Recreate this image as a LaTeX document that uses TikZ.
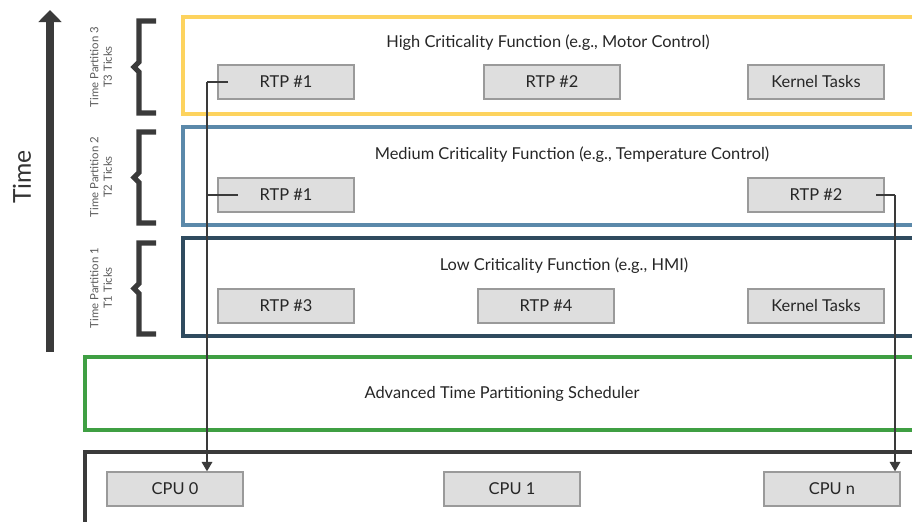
\documentclass[tikz,border=0pt]{standalone}
\usepackage{fontspec}
\setmainfont{Lato}
\usetikzlibrary{arrows.meta}

\definecolor{highcrit}{HTML}{FDD35E}
\definecolor{medcrit}{HTML}{5B89AA}
\definecolor{lowcrit}{HTML}{2F4B5F}
\definecolor{schedgreen}{HTML}{3F9F43}
\definecolor{darkline}{HTML}{3A3A3A}
\definecolor{taskfill}{HTML}{DEDEDE}
\definecolor{taskedge}{HTML}{9A9A9A}

\tikzset{
  task/.style={draw=taskedge, fill=taskfill, line width=1.1pt,
    minimum width=102pt, minimum height=25.5pt, inner sep=0pt,
    font=\fontsize{12.3}{14}\selectfont, text=black!85},
  title/.style={font=\fontsize{12.3}{14}\selectfont, text=black!85},
  frame/.style={line width=2.8pt},
  tbracket/.style={line width=3.8pt, draw=darkline},
  plabel/.style={rotate=90, align=center, text=black!65,
    font=\fontsize{8.5}{10}\selectfont},
  link/.style={draw=darkline, line width=0.8pt}
}

\begin{document}
\begin{tikzpicture}[x=0.75pt,y=-0.75pt]
      \useasboundingbox (0,0) rectangle (912,521);
      \clip (0,0) rectangle (912,521);

      % time axis
      \coordinate (tlow) at (50,352);
      \coordinate (thigh) at (50,10);
      \draw[line width=6pt, draw=darkline, -{Triangle[length=9pt,width=17pt]}] (tlow) -- (thigh);
      \node[rotate=90, font=\fontsize{18.5}{22}\selectfont, text=black!80] (timelbl) at (22,177) {Time};

      % partition frames
      \draw[frame, highcrit] (930,17) -- (183,17) -- (183,114) -- (930,114);
      \draw[frame, medcrit] (930,127) -- (183,127) -- (183,225) -- (930,225);
      \draw[frame, lowcrit] (930,238) -- (183,238) -- (183,336) -- (930,336);
      \draw[frame, schedgreen] (930,357) -- (85,357) -- (85,430) -- (930,430);
      \draw[frame, darkline] (930,452) -- (85,452) -- (85,540);

      % brackets
      \foreach \top/\bot in {21/113, 132/223, 243/334} {
        \draw[tbracket] (156,\top) -- (139,\top) -- (139,{(\top+\bot)/2-5})
          -- (134,{(\top+\bot)/2}) -- (139,{(\top+\bot)/2+5}) -- (139,\bot) -- (156,\bot);
      }
      \node[plabel] (part3) at (101,67) {Time Partition 3\\T3 Ticks};
      \node[plabel] (part2) at (101,177) {Time Partition 2\\T2 Ticks};
      \node[plabel] (part1) at (101,288) {Time Partition 1\\T1 Ticks};

      % high criticality
      \node[title] (hightitle) at (548,43) {High Criticality Function (e.g., Motor Control)};
      \node[task] (hrtpa) at (286,82) {RTP \#1};
      \node[task] (hrtpb) at (552,82) {RTP \#2};
      \node[task] (hkern) at (816,82) {Kernel Tasks};

      % medium criticality
      \node[title] (medtitle) at (572,155) {Medium Criticality Function (e.g., Temperature Control)};
      \node[task] (mrtpa) at (286,195) {RTP \#1};
      \node[task] (mrtpb) at (816,195) {RTP \#2};

      % low criticality
      \node[title] (lowtitle) at (564,266) {Low Criticality Function (e.g., HMI)};
      \node[task] (lrtpc) at (286,306) {RTP \#3};
      \node[task] (lrtpd) at (546,306) {RTP \#4};
      \node[task] (lkern) at (816,306) {Kernel Tasks};

      % scheduler
      \node[title] (sched) at (502,394) {Advanced Time Partitioning Scheduler};

      % cpus
      \node[task] (cpua) at (175,489) {CPU 0};
      \node[task] (cpub) at (512,489) {CPU 1};
      \node[task] (cpun) at (832,489) {CPU n};

      % mapping to cpus
      \coordinate (hsrc) at (228,82);
      \coordinate (msrc) at (238,195);
      \coordinate (nsrc) at (876,195);
      \coordinate (lbend) at (207,82);
      \coordinate (mbend) at (207,195);
      \coordinate (rbend) at (895,195);
      \draw[link] (hsrc) -- (lbend);
      \draw[link] (msrc) -- (mbend);
      \draw[link, -{Triangle[length=7pt,width=8pt]}] (lbend) -- (lbend |- cpua.north);
      \draw[link] (nsrc) -- (rbend);
      \draw[link, -{Triangle[length=7pt,width=8pt]}] (rbend) -- (rbend |- cpun.north);

    \end{tikzpicture}
\end{document}
